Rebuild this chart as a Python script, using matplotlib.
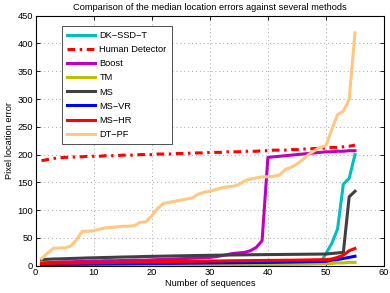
import numpy as np
import matplotlib
matplotlib.use('Agg')
import matplotlib.pyplot as plt

plt.rcParams['font.family'] = ['Liberation Sans', 'DejaVu Sans']

# === DADOS (erros medianos ordenados por sequência) === #
seq = np.arange(1, 56)

dk_ssd_t = [0.5, 0.5, 0.6, 0.6, 0.7, 0.7, 0.8, 0.8, 0.8, 0.9,
            0.9, 0.9, 1.0, 1.0, 1.0, 1.0, 1.1, 1.1, 1.1, 1.2,
            1.2, 1.2, 1.3, 1.3, 1.4, 1.4, 1.5, 1.5, 1.6, 1.6,
            1.7, 1.7, 1.8, 1.9, 2.0, 2.0, 2.1, 2.2, 2.3, 2.4,
            2.5, 2.6, 2.8, 3.0, 3.2, 3.4, 3.6, 3.8, 4.2, 22,
            40, 66, 147, 157, 200]

human_detector = [189, 191, 193, 194, 195, 195, 196, 196, 197, 197,
                  197, 198, 198, 198, 199, 199, 199, 200, 200, 200,
                  201, 201, 201, 202, 202, 202, 203, 203, 203, 204,
                  204, 204, 205, 205, 205, 206, 206, 206, 207, 207,
                  208, 208, 208, 209, 209, 210, 210, 211, 211, 212,
                  213, 213, 214, 215, 217]

boost = [5, 5.5, 6, 6.5, 7, 7, 7.5, 8, 8, 8.5,
         8.5, 9, 9, 9, 9.5, 9.5, 10, 10, 10, 10.5,
         11, 11, 11.5, 12, 12.5, 13, 13.5, 14, 14.5, 15,
         16, 18, 20, 22, 23, 24, 27, 33, 45, 195,
         196, 197, 198, 199, 200, 201, 202, 203, 204, 205,
         205, 206, 206, 207, 207]

tm = [1.0, 1.0, 1.1, 1.1, 1.2, 1.2, 1.3, 1.3, 1.4, 1.4,
      1.5, 1.5, 1.6, 1.6, 1.7, 1.7, 1.8, 1.8, 1.9, 1.9,
      2.0, 2.0, 2.1, 2.1, 2.2, 2.2, 2.3, 2.3, 2.4, 2.4,
      2.5, 2.5, 2.6, 2.6, 2.7, 2.7, 2.8, 2.8, 2.9, 2.9,
      3.0, 3.0, 3.1, 3.1, 3.2, 3.2, 3.3, 3.3, 3.4, 3.5,
      4, 5, 5, 6, 6]

ms = [11, 11.5, 12, 12.3, 12.6, 13, 13.3, 13.6, 14, 14.2,
      14.5, 14.8, 15, 15.3, 15.6, 15.8, 16, 16.3, 16.6, 16.8,
      17, 17.2, 17.4, 17.6, 17.8, 18, 18.2, 18.4, 18.5, 18.7,
      18.9, 19, 19.1, 19.3, 19.4, 19.5, 19.7, 19.8, 19.9, 20,
      20.1, 20.2, 20.3, 20.4, 20.5, 20.6, 20.7, 20.8, 20.9, 21,
      22, 23, 24, 124, 134]

ms_vr = [2, 2.1, 2.2, 2.3, 2.4, 2.5, 2.6, 2.7, 2.8, 2.9,
         3.0, 3.1, 3.2, 3.3, 3.4, 3.5, 3.6, 3.7, 3.8, 3.9,
         4.0, 4.1, 4.2, 4.3, 4.4, 4.5, 4.6, 4.7, 4.8, 4.9,
         5.0, 5.1, 5.2, 5.3, 5.4, 5.5, 5.6, 5.7, 5.8, 5.9,
         6.0, 6.2, 6.4, 6.6, 6.8, 7.0, 7.2, 7.4, 7.6, 8,
         10, 11, 13, 15, 17]

ms_hr = [4, 4.2, 4.3, 4.5, 4.6, 4.8, 4.9, 5.0, 5.2, 5.3,
         5.5, 5.6, 5.8, 5.9, 6.1, 6.2, 6.4, 6.6, 6.8, 7.0,
         7.1, 7.3, 7.4, 7.6, 7.7, 7.9, 8.0, 8.1, 8.3, 8.4,
         8.5, 8.6, 8.8, 8.9, 9.0, 9.1, 9.2, 9.3, 9.4, 9.5,
         9.6, 9.7, 9.8, 9.9, 10.0, 10.2, 10.4, 10.6, 10.8, 11,
         12, 15, 19, 27, 31]

dt_pf = [13, 22, 31, 32, 32, 35, 46, 62, 62, 63,
         66, 68, 69, 70, 71, 71, 72, 78, 79, 90,
         103, 112, 114, 116, 118, 120, 122, 129, 132, 134,
         137, 140, 142, 143, 146, 153, 156, 158, 160, 160,
         161, 163, 173, 177, 183, 191, 200, 207, 213, 216,
         245, 272, 278, 299, 419]

# === GRÁFICO === #
fig = plt.figure(figsize=(3.9, 2.93), dpi=100)
ax = fig.add_axes([35.7 / 390, 27.3 / 293, 348.3 / 390, 250 / 293])

lw = 2.2
ax.plot(seq, dk_ssd_t, color=(0, 0.75, 0.75), lw=lw, label='DK\u2212SSD\u2212T')
ax.plot(seq, human_detector, color='red', lw=lw, dashes=(2.5, 1.5, 0.8, 1.5),
        label='Human Detector')
ax.plot(seq, boost, color=(0.75, 0, 0.75), lw=lw, label='Boost')
ax.plot(seq, tm, color=(0.75, 0.75, 0), lw=lw, label='TM')
ax.plot(seq, ms, color=(0.25, 0.25, 0.25), lw=lw, label='MS')
ax.plot(seq, ms_vr, color='blue', lw=lw, label='MS\u2212VR')
ax.plot(seq, ms_hr, color='red', lw=lw, label='MS\u2212HR')
ax.plot(seq, dt_pf, color=(1, 0.78, 0.5), lw=lw, label='DT\u2212PF')

ax.set_xlim(0, 60)
ax.set_ylim(0, 450)
ax.set_xticks(np.arange(0, 61, 10))
ax.set_yticks(np.arange(0, 451, 50))
ax.tick_params(direction='in', top=True, right=True, labelsize=6.7,
               length=3, width=0.6, pad=2)
ax.grid(True, linestyle=(0, (1, 3)), color='#a8a8a8', linewidth=0.7)
for s in ax.spines.values():
    s.set_linewidth(0.8)

ax.set_title('Comparison of the median location errors against several methods',
             fontsize=6.7, pad=4)
ax.set_xlabel('Number of sequences', fontsize=6.7, labelpad=1)
ax.set_ylabel('Pixel location error', fontsize=6.7, labelpad=2)

leg = ax.legend(loc='upper left', bbox_to_anchor=(0.0747, 0.959), fontsize=6.7,
                handlelength=3.0, handletextpad=0.5, labelspacing=0.55,
                borderpad=0.55, borderaxespad=0, fancybox=False, framealpha=1,
                edgecolor='#333333')
leg.get_frame().set_linewidth(0.6)

fig.savefig('out.png', dpi=100)
